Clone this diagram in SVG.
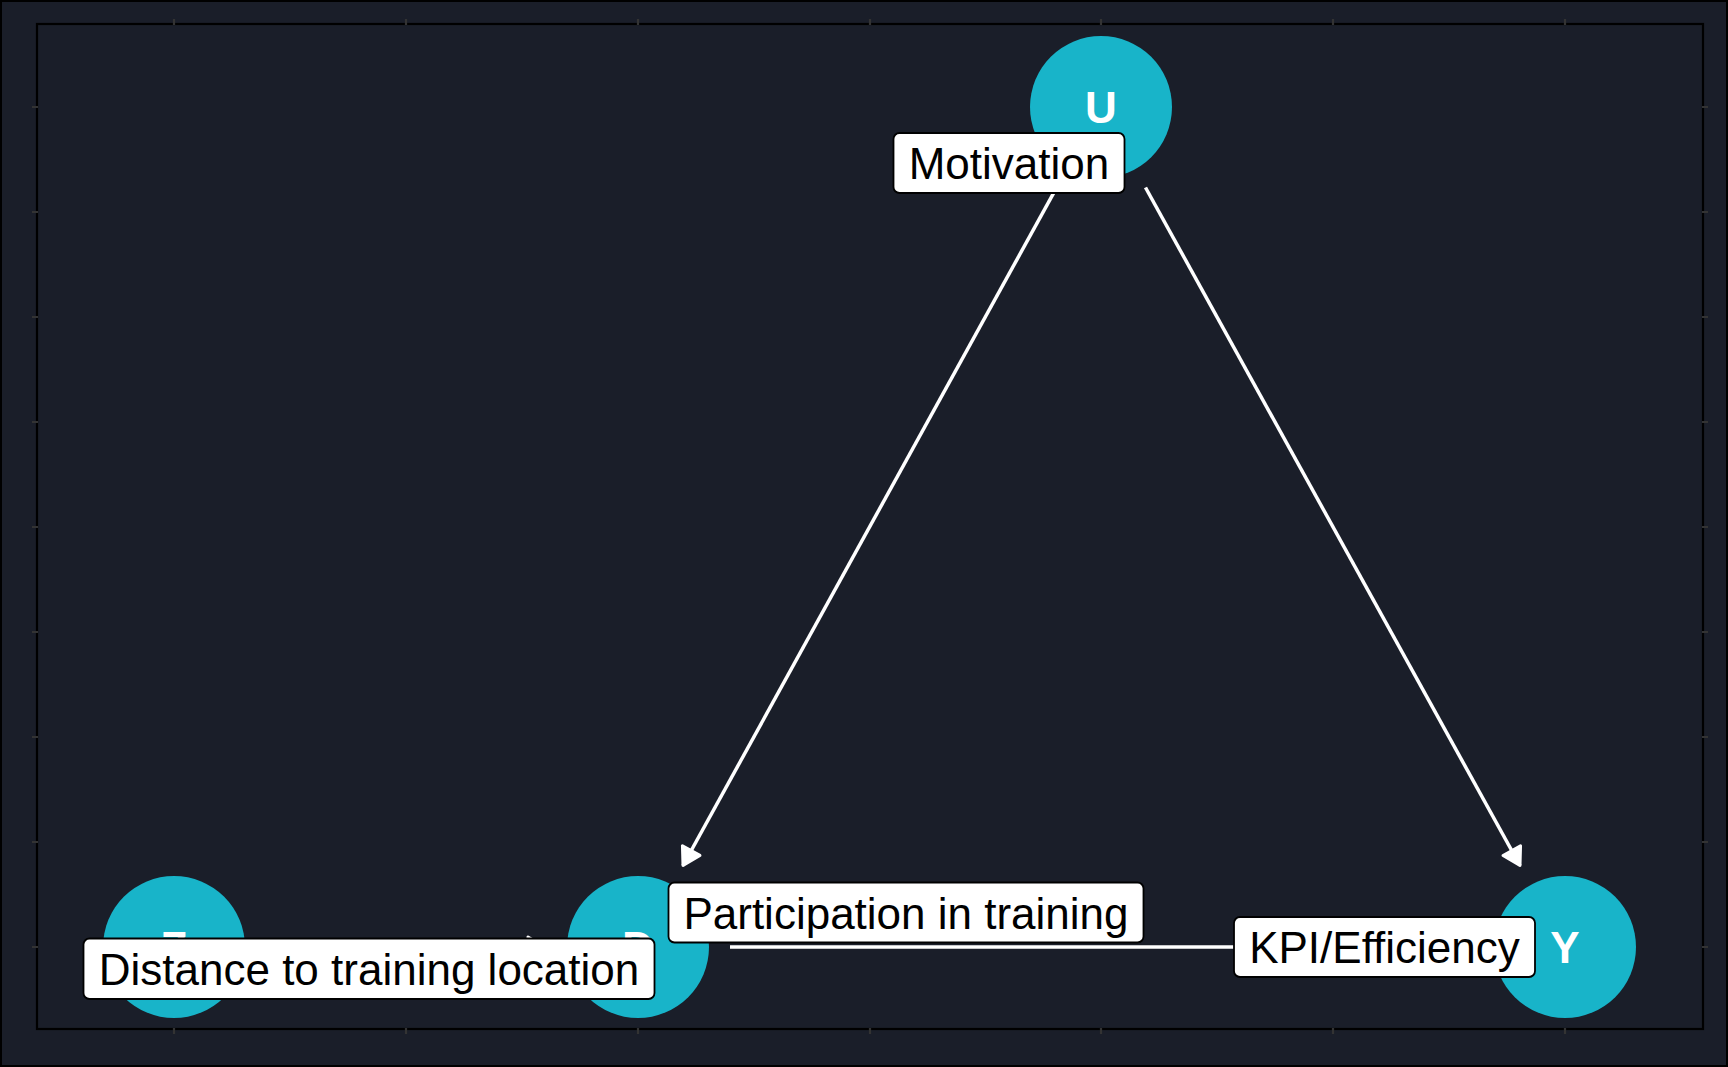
<svg xmlns="http://www.w3.org/2000/svg" width="1728" height="1067" viewBox="0 0 1728 1067">
<style>
.bg{fill:#1a1e29;stroke:#000;stroke-width:2}
.panel{fill:#1a1e29;stroke:#000;stroke-width:2.2}
.tick{stroke:#333;stroke-width:2.2}
.edge{stroke:#fff;stroke-width:3.5;fill:none;marker-end:url(#arrow)}
.node{fill:#18b4c9}
.nlab{font-family:"Liberation Sans",Arial,sans-serif;font-weight:bold;font-size:44px;fill:#fff;text-anchor:middle}
.lbox{fill:#fff;stroke:#000;stroke-width:1.8}
.ltxt{font-family:"Liberation Sans",Arial,sans-serif;font-size:44px;fill:#000;text-anchor:middle}
</style>
<defs>
<marker id="arrow" markerUnits="userSpaceOnUse" viewBox="-25 -15 30 30" refX="0" refY="0" markerWidth="30" markerHeight="30" orient="auto" overflow="visible">
<path d="M0,0 L-17,-10 L-17,10 Z" fill="#fff" stroke="#fff" stroke-width="3" stroke-linejoin="round"/>
</marker>
</defs>
<g id="background">
<rect class="bg" x="1" y="1" width="1726" height="1065"/>
<rect class="panel" x="37" y="24" width="1666" height="1005"/>
<g id="ticks">
<path class="tick" d="M174,25V19M406,25V19M638,25V19M870,25V19M1101,25V19M1333,25V19M1565,25V19"/>
<path class="tick" d="M174,1028V1034M406,1028V1034M638,1028V1034M870,1028V1034M1101,1028V1034M1333,1028V1034M1565,1028V1034"/>
<path class="tick" d="M38,107H32M38,212H32M38,317H32M38,422H32M38,527H32M38,632H32M38,737H32M38,842H32M38,947H32"/>
<path class="tick" d="M1702,107H1708M1702,212H1708M1702,317H1708M1702,422H1708M1702,527H1708M1702,632H1708M1702,737H1708M1702,842H1708M1702,947H1708"/>
</g>
</g>
<g id="edges">
<line class="edge" x1="1056.6" y1="187.6" x2="683" y2="865.5"/>
<line class="edge" x1="1145.5" y1="187.5" x2="1520" y2="865.5"/>
<line class="edge" x1="266" y1="947" x2="545" y2="947"/>
<line class="edge" x1="730" y1="947" x2="1472" y2="947"/>
</g>
<g id="node-Z"><circle class="node" cx="174" cy="947" r="71"/><text class="nlab" x="174" y="962.5">Z</text></g>
<g id="node-D"><circle class="node" cx="638" cy="947" r="71"/><text class="nlab" x="638" y="962.5">D</text></g>
<g id="node-U"><circle class="node" cx="1101" cy="107" r="71"/><text class="nlab" x="1101" y="122.5">U</text></g>
<g id="node-Y"><circle class="node" cx="1565" cy="947" r="71"/><text class="nlab" x="1565" y="962.5">Y</text></g>
<g id="label-U"><rect class="lbox" x="893.5" y="133" width="231" height="60" rx="6"/><text class="ltxt" x="1009" y="178.5">Motivation</text></g>
<g id="label-Z"><rect class="lbox" x="83.5" y="938.5" width="571" height="60.5" rx="6"/><text class="ltxt" x="369" y="985">Distance to training location</text></g>
<g id="label-D"><rect class="lbox" x="668.5" y="882.5" width="475" height="60" rx="6"/><text class="ltxt" x="906" y="928.5">Participation in training</text></g>
<g id="label-Y"><rect class="lbox" x="1234" y="917" width="301" height="60" rx="6"/><text class="ltxt" x="1384.5" y="962.7">KPI/Efficiency</text></g>
</svg>
